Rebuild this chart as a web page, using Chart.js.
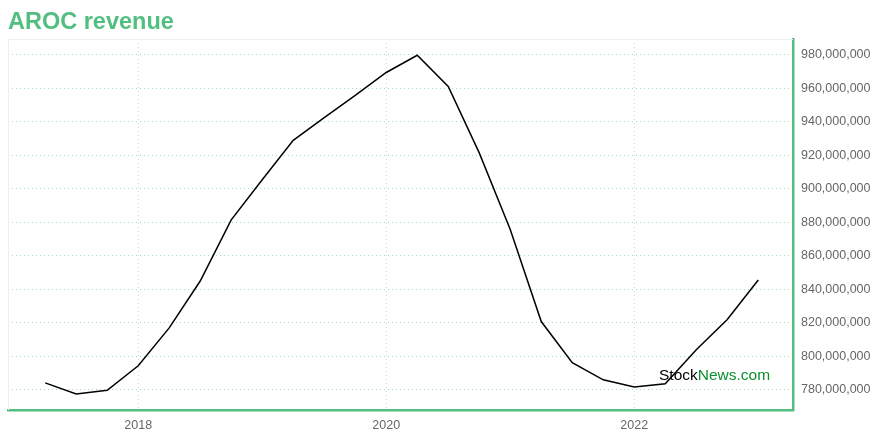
<!DOCTYPE html>
<html>
<head>
<meta charset="utf-8">
<script src="https://cdn.jsdelivr.net/npm/chart.js@4.4.1/dist/chart.umd.min.js"></script>
<style>
  html, body { margin: 0; padding: 0; background: #fff; }
  #wrap { width: 880px; height: 440px; }
</style>
</head>
<body>
<div id="wrap"><canvas id="revChart" width="880" height="440"></canvas></div>
<script>
// quarter ends as fractional years
const quarters = [2017.25, 2017.5, 2017.75, 2018.0, 2018.25, 2018.5, 2018.75, 2019.0,
  2019.25, 2019.5, 2019.75, 2020.0, 2020.25, 2020.5, 2020.75, 2021.0,
  2021.25, 2021.5, 2021.75, 2022.0, 2022.25, 2022.5, 2022.75, 2023.0];
const revenue = [784.2, 777.6, 779.8, 794.4, 817.0, 845.0, 881.5, 905.5,
  929.0, 942.5, 955.8, 969.5, 979.8, 961.2, 921.5, 875.8,
  820.8, 796.2, 786.0, 781.8, 783.6, 804.0, 822.0, 845.6].map(v => v * 1e6);
const yearTicks = [2018, 2020, 2022];

const green = "rgb(82,191,128)";
const ctx = document.getElementById("revChart").getContext("2d");

// faint frame + watermark
const extras = {
  id: "extras",
  beforeDatasetsDraw(chart) {
    const { ctx, chartArea: a } = chart;
    ctx.save();
    ctx.strokeStyle = "#eeeeee";
    ctx.lineWidth = 1;
    ctx.beginPath();
    ctx.moveTo(a.left + 0.5, a.bottom);
    ctx.lineTo(a.left + 0.5, a.top + 0.5);
    ctx.lineTo(a.right, a.top + 0.5);
    ctx.stroke();
    ctx.restore();
  },
  afterDraw(chart) {
    const { ctx } = chart;
    ctx.save();
    ctx.font = "15.5px 'Liberation Sans', Arial, sans-serif";
    ctx.textBaseline = "alphabetic";
    const x = 659, y = 380;
    ctx.fillStyle = "#000";
    ctx.fillText("Stock", x, y);
    const w = ctx.measureText("Stock").width;
    ctx.fillStyle = "#0a8f2e";
    ctx.fillText("News.com", x + w, y);
    ctx.restore();
  }
};

new Chart(ctx, {
  type: "line",
  data: {
    datasets: [{
      data: quarters.map((q, i) => ({ x: q, y: revenue[i] })),
      borderColor: "#000",
      borderWidth: 1.5,
      pointRadius: 0,
      fill: false,
      tension: 0,
    }],
  },
  options: {
    responsive: false,
    animation: false,
    layout: { padding: { left: 8, top: 0, right: 0, bottom: 0 } },
    plugins: {
      legend: { display: false },
      tooltip: { enabled: false },
      title: {
        display: true,
        text: "AROC revenue",
        align: "start",
        color: green,
        font: { family: "'Liberation Sans', Arial, sans-serif", size: 23.5, weight: "bold", lineHeight: 1.2 },
        padding: { top: 8, bottom: 2.8 },
      },
    },
    scales: {
      x: {
        type: "linear",
        min: 2016.95,
        max: 2023.28,
        afterBuildTicks: (s) => { s.ticks = yearTicks.map(v => ({ value: v })); },
        afterFit: (s) => { s.height = 30; },
        ticks: {
          color: "#666",
          font: { family: "'Liberation Sans', Arial, sans-serif", size: 12.5 },
          padding: 8,
          maxRotation: 0,
          callback: (v) => String(v),
        },
        grid: { color: "rgba(82,191,128,0.4)", drawTicks: false },
        border: { color: green, width: 2.5, dash: [1, 3] },
      },
      y: {
        position: "right",
        min: 768e6,
        max: 989.5e6,
        afterBuildTicks: (s) => {
          const t = [];
          for (let v = 780e6; v <= 980e6; v += 20e6) t.push({ value: v });
          s.ticks = t;
        },
        afterFit: (s) => { s.width = 87; },
        ticks: {
          color: "#666",
          font: { family: "'Liberation Sans', Arial, sans-serif", size: 12.5 },
          padding: 8,
          callback: (v) => v.toLocaleString("en-US"),
        },
        grid: { color: "rgba(82,191,128,0.55)", drawTicks: false },
        border: { color: green, width: 2.5, dash: [1, 3] },
      },
    },
  },
  plugins: [extras],
});
</script>
</body>
</html>
